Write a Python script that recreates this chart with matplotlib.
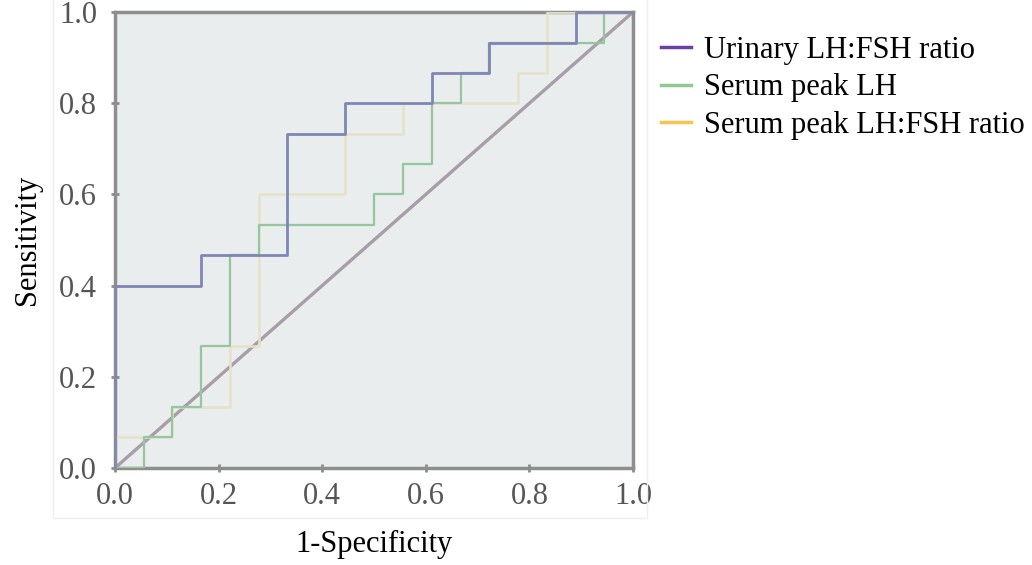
import matplotlib.pyplot as plt
from matplotlib.lines import Line2D
from matplotlib.patches import Rectangle

plt.rcParams['font.family'] = ['Liberation Serif', 'DejaVu Serif']

# ROC corner points (1-specificity, sensitivity)
urinary_fpr = [0, 0, 0.167, 0.167, 0.333, 0.333, 0.444, 0.444, 0.611, 0.611, 0.722, 0.722, 0.889, 0.889, 1.0]
urinary_tpr = [0, 0.4, 0.4, 0.467, 0.467, 0.733, 0.733, 0.8, 0.8, 0.867, 0.867, 0.933, 0.933, 1.0, 1.0]

lh_fpr = [0, 0.056, 0.056, 0.111, 0.111, 0.167, 0.167, 0.222, 0.222, 0.278, 0.278, 0.5, 0.5, 0.556, 0.556,
          0.611, 0.611, 0.667, 0.667, 0.722, 0.722, 0.944, 0.944, 1.0]
lh_tpr = [0, 0, 0.067, 0.067, 0.133, 0.133, 0.267, 0.267, 0.467, 0.467, 0.533, 0.533, 0.6, 0.6, 0.667,
          0.667, 0.8, 0.8, 0.867, 0.867, 0.933, 0.933, 1.0, 1.0]

ratio_fpr = [0, 0, 0.111, 0.111, 0.222, 0.222, 0.278, 0.278, 0.444, 0.444, 0.556, 0.556, 0.778, 0.778,
             0.833, 0.833, 1.0]
ratio_tpr = [0, 0.067, 0.067, 0.133, 0.133, 0.267, 0.267, 0.6, 0.6, 0.733, 0.733, 0.8, 0.8, 0.867,
             0.867, 1.0, 1.0]

labels = ['Urinary LH:FSH ratio', 'Serum peak LH', 'Serum peak LH:FSH ratio']
legend_colors = ['#6a3fa6', '#8fca8f', '#f7c54e']

fig = plt.figure(figsize=(10.32, 5.65), dpi=100)
# faint outer chart frame
fig.patches.append(Rectangle((0.051, 0.083), 0.576, 0.92, transform=fig.transFigure,
                             facecolor='none', edgecolor='#efefef', lw=1))
ax = fig.add_axes([0.1114, 0.1717, 0.502, 0.807])
ax.set_facecolor('#eaeded')

ax.plot([0, 1], [0, 1], color='#a89ea9', lw=2.4, zorder=2)
ax.plot(ratio_fpr, ratio_tpr, color='#e5e2c8', lw=1.8, zorder=3)
ax.plot(lh_fpr, lh_tpr, color='#95c6a0', lw=1.6, zorder=4)
ax.plot(urinary_fpr, urinary_tpr, color='#7f86b6', lw=2.0, zorder=5)

ax.set_xlim(0, 1)
ax.set_ylim(0, 1)
ticks = [0.0, 0.2, 0.4, 0.6, 0.8, 1.0]
ax.set_xticks(ticks)
ax.set_yticks(ticks)
ax.set_xticklabels(['%.1f' % t for t in ticks])
ax.set_yticklabels(['%.1f' % t for t in ticks], va='center_baseline')
ax.tick_params(axis='both', labelsize=22, colors='#8c8c8c', labelcolor='#555555',
               direction='inout', length=6, width=2)
ax.tick_params(axis='x', pad=7)
ax.tick_params(axis='y', pad=10)
for s in ax.spines.values():
    s.set_color('#8e8e8e')
    s.set_linewidth(2.5)

ax.set_xlabel('1-Specificity', fontsize=22, labelpad=14)
ax.set_ylabel('Sensitivity', fontsize=22, labelpad=12)

handles = [Line2D([], [], color=c, lw=2.5) for c in legend_colors]
ax.legend(handles, labels, loc='upper left', bbox_to_anchor=(1.03, 0.975), frameon=False,
          fontsize=22, handlelength=1.0, handletextpad=0.4, labelspacing=0.28,
          borderaxespad=0.0)

fig.savefig('out.png', dpi=100)
